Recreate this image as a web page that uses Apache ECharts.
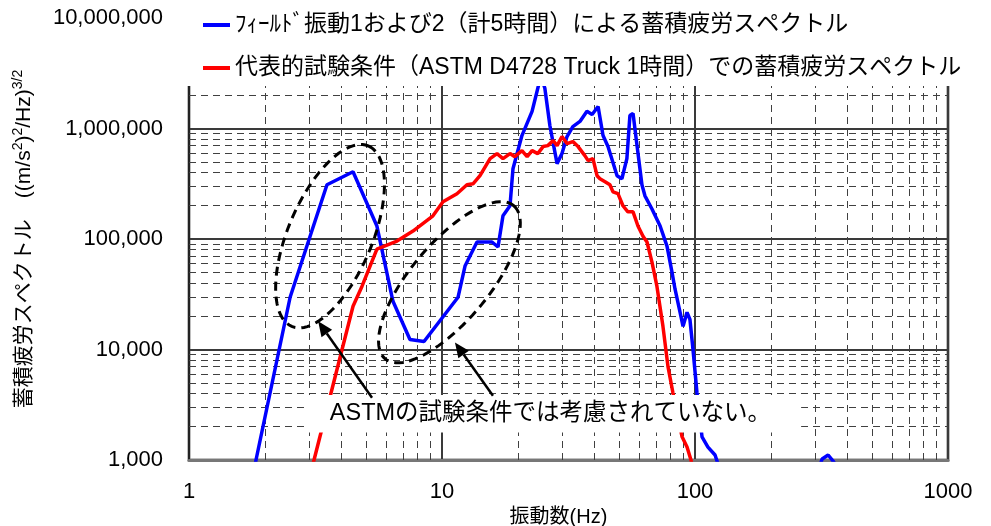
<!DOCTYPE html>
<html>
<head>
<meta charset="utf-8">
<script src="https://cdn.jsdelivr.net/npm/echarts@6/dist/echarts.min.js"></script>
<style>
  html, body { margin: 0; padding: 0; background: #fff; }
  #main { width: 991px; height: 526px; }
</style>
</head>
<body>
<div id="main"></div>
<script>
// フィールド振動（青）
var fieldFreq = [1.75, 1.84, 2.51, 3.51, 4.45, 5.53, 6.40, 7.47, 8.49, 11.57, 12.33, 13.75, 15.76, 16.65, 17.42, 18.57, 19.08, 20.7, 22.7, 24.6, 25.5, 26.7, 28.5, 29.8, 31.2, 32.9, 35.1, 37.4, 39.2, 41.4, 43.3, 45.3, 49.2, 51.4, 53.8, 55.3, 56.9, 59.0, 61.7, 63.4, 67.6, 72.8, 77.5, 81.1, 83.4, 87.3, 89.7, 93.0, 95.5, 98.2, 101.8, 106.6, 112.5, 120, 125.6, 180, 298, 318, 336, 354, 374, 646];
var fieldVal = [540, 1000, 29700, 310000, 406000, 131000, 27300, 12300, 11800, 29700, 56900, 93900, 93900, 84600, 162000, 200000, 433000, 863000, 1430000, 3000000, 2310000, 1060000, 481000, 593000, 845000, 1040000, 1160000, 1430000, 1340000, 1580000, 863000, 686000, 374000, 351000, 534000, 1310000, 1370000, 700000, 310000, 246000, 187000, 131000, 86300, 50100, 35100, 21700, 16200, 21700, 18700, 10000, 4060, 1620, 1310, 1110, 811, 285, 658, 1020, 1110, 959, 534, 188];

// ASTM D4728 Truck（赤）
var astmFreq = [2.90, 3.12, 4.45, 4.83, 5.53, 6.64, 7.68, 9.21, 10.09, 11.46, 12.55, 13.26, 14.13, 15.49, 16.5, 17.42, 18.57, 19.4, 20.7, 21.7, 22.7, 23.9, 25.1, 26.2, 27.5, 28.5, 29.8, 31.2, 32.9, 34.5, 36.7, 37.8, 39.5, 41.0, 42.1, 44.1, 46.1, 47.4, 49.6, 51.9, 54.3, 56.9, 59.5, 62.3, 64.6, 67.6, 70.7, 74.7, 78.2, 81.8, 88.9, 93.0, 96.4, 100];
var astmVal = [533, 1000, 24600, 37400, 81100, 95900, 118000, 162000, 217000, 257000, 310000, 316000, 374000, 534000, 593000, 534000, 593000, 556000, 631000, 556000, 631000, 593000, 686000, 700000, 778000, 700000, 845000, 731000, 762000, 686000, 568000, 512000, 534000, 374000, 351000, 330000, 310000, 267000, 257000, 200000, 176000, 176000, 131000, 106000, 93900, 61800, 37400, 16200, 7000, 4060, 1620, 1310, 1000, 658];

// 補助目盛線
var xMinor = [2, 3, 4, 5, 6, 7, 8, 9, 20, 30, 40, 50, 60, 70, 80, 90, 200, 300, 400, 500, 600, 700, 800, 900];
var yMinor = [];
[1e3, 1e4, 1e5, 1e6].forEach(function (d) {
    for (var k = 2; k <= 9; k++) yMinor.push(d * k);
});

var nameField = 'ﾌｨｰﾙﾄﾞ振動1および2（計5時間）による蓄積疲労スペクトル';
var nameAstm = '代表的試験条件（ASTM D4728 Truck 1時間）での蓄積疲労スペクトル';
var noteText = 'ASTMの試験条件では考慮されていない。';

function zip(a, b) {
    return a.map(function (v, i) { return [v, b[i]]; });
}

var font = "'Liberation Sans', 'Noto Sans CJK JP', sans-serif";
var myChart = echarts.init(document.getElementById('main'));

var option = {
    animation: false,
    textStyle: { fontFamily: font },
    grid: {
        left: 189, right: 43, top: 18, bottom: 66,
        show: true, borderColor: '#808080', borderWidth: 3,
        containLabel: false,
        outerBoundsMode: 'none'
    },
    legend: {
        data: [nameField, nameAstm],
        orient: 'vertical',
        left: 185,
        top: 0,
        padding: [13, 12, 6, 18],
        itemGap: 19,
        itemWidth: 27,
        itemHeight: 4,
        icon: 'rect',
        backgroundColor: '#fff',
        textStyle: { fontSize: 23, color: '#000', fontFamily: font, lineHeight: 24 }
    },
    xAxis: {
        type: 'log',
        logBase: 10,
        min: 1,
        max: 1000,
        name: '振動数(Hz)',
        nameLocation: 'middle',
        nameGap: 34,
        nameTextStyle: { fontSize: 20, color: '#000', fontFamily: font, padding: [0, 20, 0, 0] },
        axisLine: { lineStyle: { color: '#777', width: 3 } },
        axisTick: { show: false },
        axisLabel: {
            fontSize: 22, color: '#000', margin: 21,
            formatter: function (v) { return String(Math.round(v)); }
        },
        splitLine: { show: true, lineStyle: { color: '#3a3a3a', width: 2 } }
    },
    yAxis: {
        type: 'log',
        logBase: 10,
        min: 1000,
        max: 10000000,
        name: '蓄積疲労スペクトル　((m/s{s|2}){s|2}/Hz){s|3/2}',
        nameLocation: 'middle',
        nameRotate: 90,
        nameGap: 152,
        nameTextStyle: {
            fontSize: 21, color: '#000', fontFamily: font, lineHeight: 26,
            rich: { s: { fontSize: 14, lineHeight: 14, verticalAlign: 'top', fontFamily: font, color: '#000' } }
        },
        axisLine: { show: true, lineStyle: { color: '#222', width: 2 } },
        axisTick: { show: false },
        axisLabel: {
            fontSize: 22, color: '#000', margin: 26,
            formatter: function (v) { return Math.round(v).toLocaleString('en-US'); }
        },
        splitLine: { show: true, lineStyle: { color: '#3a3a3a', width: 2 } }
    },
    series: [
        {
            name: 'grid-minor',
            type: 'line',
            data: [],
            silent: true,
            markLine: {
                z: 1,
                silent: true,
                animation: false,
                symbol: ['none', 'none'],
                label: { show: false },
                lineStyle: { type: [7, 5], color: '#404040', width: 1 },
                data: xMinor.map(function (v) { return { xAxis: v }; })
                    .concat(yMinor.map(function (v) { return { yAxis: v }; }))
            }
        },
        {
            name: nameField,
            type: 'line',
            z: 3,
            symbol: 'none',
            showSymbol: false,
            clip: true,
            color: '#0000ff',
            lineStyle: { color: '#0000ff', width: 3.5 },
            data: zip(fieldFreq, fieldVal)
        },
        {
            name: nameAstm,
            type: 'line',
            z: 3,
            symbol: 'none',
            showSymbol: false,
            clip: true,
            color: '#ff0000',
            lineStyle: { color: '#ff0000', width: 3.5 },
            data: zip(astmFreq, astmVal)
        }
    ]
};
myChart.setOption(option);

// 注記（楕円・矢印・テキスト）
function px(f, v) {
    return myChart.convertToPixel({ gridIndex: 0 }, [f, v]);
}
function ellipsePts(c, rx, ry, deg) {
    var a = deg * Math.PI / 180, pts = [];
    var ux = Math.cos(a), uy = -Math.sin(a), vx = Math.sin(a), vy = Math.cos(a);
    for (var i = 0; i < 90; i++) {
        var t = i / 90 * Math.PI * 2;
        pts.push([c[0] + rx * Math.cos(t) * ux + ry * Math.sin(t) * vx,
                  c[1] + rx * Math.cos(t) * uy + ry * Math.sin(t) * vy]);
    }
    return pts;
}
function arrow(s, t) {
    var dx = t[0] - s[0], dy = t[1] - s[1], L = Math.sqrt(dx * dx + dy * dy);
    var ux = dx / L, uy = dy / L, bx = t[0] - ux * 15, by = t[1] - uy * 15;
    return [
        { type: 'line', z: 101, shape: { x1: s[0], y1: s[1], x2: bx, y2: by }, style: { stroke: '#000', lineWidth: 2.5 } },
        { type: 'polygon', z: 101, shape: { points: [t, [bx - uy * 6.5, by + ux * 6.5], [bx + uy * 6.5, by - ux * 6.5]] }, style: { fill: '#000' } }
    ];
}
var dash = { fill: 'none', stroke: '#000', lineWidth: 3, lineDash: [9, 6] };
var textPos = px(2.87, 2620);
var elements = [
    { type: 'polygon', z: 99, shape: { points: ellipsePts(px(3.61, 106000), 98, 42, 67) }, style: dash },
    { type: 'polygon', z: 99, shape: { points: ellipsePts(px(10.7, 40600), 100, 39, 50) }, style: dash },
    {
        type: 'text', z: 100,
        style: {
            text: noteText, x: textPos[0], y: textPos[1],
            textAlign: 'left', textVerticalAlign: 'middle',
            font: '23.5px ' + font, fill: '#000',
            backgroundColor: '#fff', padding: [7, 30, 7, 25]
        }
    }
].concat(arrow(px(5.29, 3660), px(3.24, 18000)))
 .concat(arrow(px(15.9, 3820), px(11.25, 11600)));

myChart.setOption({ graphic: { elements: elements } });
</script>
</body>
</html>
